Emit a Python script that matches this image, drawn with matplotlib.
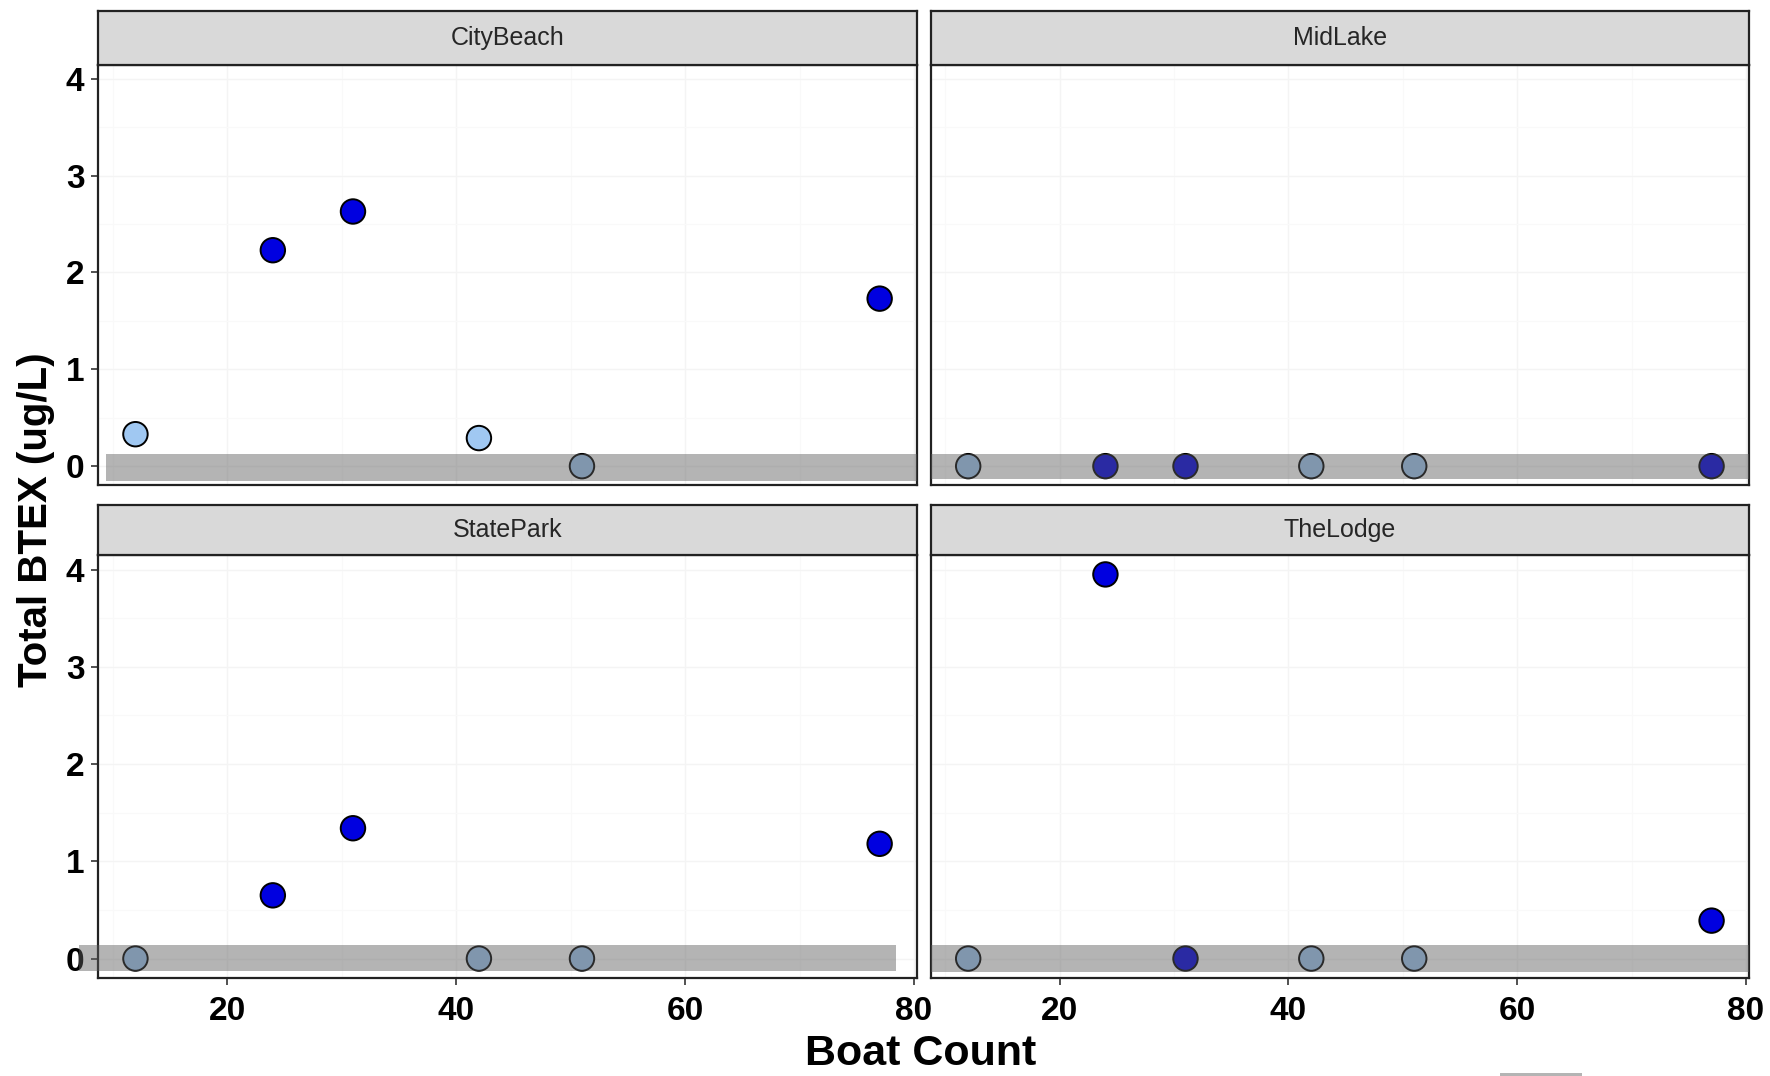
import matplotlib.pyplot as plt
from matplotlib.patches import Rectangle

plt.rcParams['font.family'] = ['Liberation Sans', 'DejaVu Sans']

# boat counts on each sampling day, and whether BTEX was detected that day
boat_count = [12, 24, 31, 42, 51, 77]
detected = [False, True, True, False, False, True]

sites = ['CityBeach', 'MidLake', 'StatePark', 'TheLodge']
btex = {
    'CityBeach': [0.33, 2.23, 2.63, 0.29, 0.0, 1.73],
    'MidLake':   [0.0, 0.0, 0.0, 0.0, 0.0, 0.0],
    'StatePark': [0.0, 0.65, 1.34, 0.0, 0.0, 1.18],
    'TheLodge':  [0.0, 3.95, 0.0, 0.0, 0.0, 0.39],
}

# gray boxes marking the non-detect zone: (x0, x1, y0, y1)
shade_boxes = {
    'CityBeach': (9.4, 80.25, -0.15, 0.13),
    'MidLake':   (8.75, 80.25, -0.13, 0.13),
    'StatePark': (7.1, 78.4, -0.13, 0.14),
    'TheLodge':  (8.75, 80.25, -0.14, 0.14),
}

xlim = (8.75, 80.25)
ylim = (-0.1975, 4.1475)

fig = plt.figure(figsize=(17.7, 10.76), dpi=100)

cols = [(0.0555, 0.4625), (0.526, 0.462)]
rows = [(0.549, 0.391, 0.0495), (0.0913, 0.3927, 0.047)]

for i, site in enumerate(sites):
    r, c = divmod(i, 2)
    x0, w = cols[c]
    y0, h, sh = rows[r]
    ax = fig.add_axes([x0, y0, w, h])
    strip = fig.add_axes([x0, y0 + h, w, sh])

    ax.set_xlim(*xlim)
    ax.set_ylim(*ylim)
    ax.set_xticks([20, 40, 60, 80])
    ax.set_yticks([0, 1, 2, 3, 4])
    ax.set_xticks([10, 30, 50, 70], minor=True)
    ax.set_yticks([0.5, 1.5, 2.5, 3.5], minor=True)
    ax.grid(True, which='major', color='#f4f4f4', lw=1.0, zorder=0)
    ax.grid(True, which='minor', color='#f9f9f9', lw=0.8, zorder=0)
    ax.tick_params(which='minor', length=0)
    ax.tick_params(which='major', length=5, width=1.2, color='#333333',
                   labelsize=24, pad=5)
    for lab in ax.get_xticklabels() + ax.get_yticklabels():
        lab.set_fontweight('bold')
    if c == 1:
        ax.tick_params(axis='y', left=False, labelleft=False)
    if r == 0:
        ax.tick_params(axis='x', bottom=False, labelbottom=False)
    else:
        ax.tick_params(axis='x', pad=8)
    for sp in ax.spines.values():
        sp.set_color('#222222')
        sp.set_linewidth(1.6)

    fills = ['#0000e0' if d else '#a0c8f2' for d in detected]
    ax.scatter(boat_count, btex[site], s=310, c=fills, edgecolors='black',
               linewidths=1.4, zorder=3, clip_on=False)

    bx0, bx1, by0, by1 = shade_boxes[site]
    ax.add_patch(Rectangle((bx0, by0), bx1 - bx0, by1 - by0,
                           facecolor='#5c5c5c', alpha=0.46, lw=0,
                           zorder=4, clip_on=False))

    strip.set_xticks([])
    strip.set_yticks([])
    strip.set_facecolor('#d9d9d9')
    for sp in strip.spines.values():
        sp.set_color('#222222')
        sp.set_linewidth(1.6)
    strip.text(0.5, 0.5, site, ha='center', va='center', fontsize=18,
               color='#262626', transform=strip.transAxes)

fig.text(0.0204, 0.517, 'Total BTEX (ug/L)', rotation=90, ha='center',
         va='center', fontsize=29, fontweight='bold')
fig.text(0.5204, 0.02, 'Boat Count', ha='center', va='center',
         fontsize=31, fontweight='bold')

# small stray gray mark at the bottom edge
fig.patches.append(Rectangle((0.8475, 0.0), 0.0463, 0.003,
                             transform=fig.transFigure, facecolor='#b4b4b4',
                             lw=0))

fig.savefig('out.png', dpi=100)
